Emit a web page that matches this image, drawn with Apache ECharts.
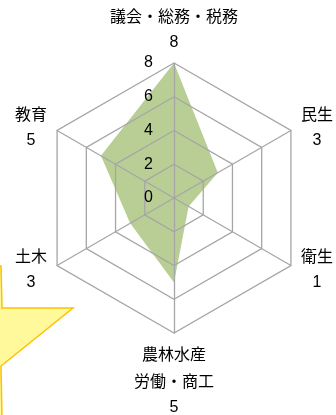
<!DOCTYPE html>
<html>
<head>
<meta charset="utf-8">
<script src="https://cdn.jsdelivr.net/npm/echarts@6/dist/echarts.min.js"></script>
<style>
  html, body { margin: 0; padding: 0; background: #fff; }
  #chart { width: 336px; height: 415px; }
</style>
</head>
<body>
<div id="chart"></div>
<script>
// 指標（上から反時計回り）
const indicatorNames = ['議会・総務・税務', '教育', '土木', '農林水産\n労働・商工', '衛生', '民生'];
const values = [8, 5, 3, 5, 1, 3];
const axisMax = 8;
const splitCount = 4; // 目盛 0,2,4,6,8

const font = '"Noto Sans CJK JP", "Noto Sans", sans-serif';
const numFont = '"Liberation Sans", Arial, sans-serif';
const gridColor = '#a6a6a6';

let myChart = echarts.init(document.getElementById('chart'), null, { renderer: 'canvas' });

let option = {
  animation: false,
  textStyle: { fontFamily: font },
  radar: {
    center: [174, 198],
    radius: 135,
    startAngle: 90,
    shape: 'polygon',
    splitNumber: splitCount,
    z: 3,
    nameGap: 7,
    axisName: {
      color: '#000',
      fontFamily: font,
      fontSize: 16,
      formatter: (name) => {
        const i = indicatorNames.indexOf(name);
        const wide = (i === 0 || i === 3);
        const key = wide ? 'w' : 't';
        return name.split('\n').map(s => '{' + key + '|' + s + '}').join('\n') +
          '\n{' + (wide ? 'wv' : 'tv') + '|' + values[i] + '}';
      },
      rich: {
        t: { width: 40, align: 'center', fontSize: 16, lineHeight: 27, color: '#000', fontFamily: font },
        w: { width: 150, align: 'center', fontSize: 16, lineHeight: 27, color: '#000', fontFamily: font },
        tv: { width: 40, align: 'center', fontSize: 16, lineHeight: 27, color: '#000', fontFamily: numFont },
        wv: { width: 150, align: 'center', fontSize: 16, lineHeight: 27, color: '#000', fontFamily: numFont }
      }
    },
    splitLine: { lineStyle: { color: gridColor, width: 1.3 } },
    splitArea: { show: false },
    axisLine: { lineStyle: { color: gridColor, width: 1.3 } },
    axisTick: { show: false },
    axisLabel: { show: false },
    indicator: indicatorNames.map((n, i) => {
      const ind = { name: n, min: 0, max: axisMax };
      if (i === 0) {
        ind.axisLabel = { show: true, color: '#000', fontSize: 16, fontFamily: numFont, margin: 21 };
      }
      return ind;
    })
  },
  graphic: [
    {
      type: 'polygon',
      z: 100,
      shape: { points: [[1, 266], [2, 308], [73, 308], [1, 366], [2, 420], [-20, 420], [-20, 266]] },
      style: { fill: '#fff99b', stroke: '#ffc000', lineWidth: 1.5 }
    }
  ],
  series: [
    {
      type: 'radar',
      z: 2,
      symbol: 'none',
      silent: true,
      lineStyle: { width: 0, opacity: 0 },
      areaStyle: { color: '#b8ce94', opacity: 1 },
      data: [{ value: values, name: '決算' }]
    }
  ]
};

myChart.setOption(option);
</script>
</body>
</html>
